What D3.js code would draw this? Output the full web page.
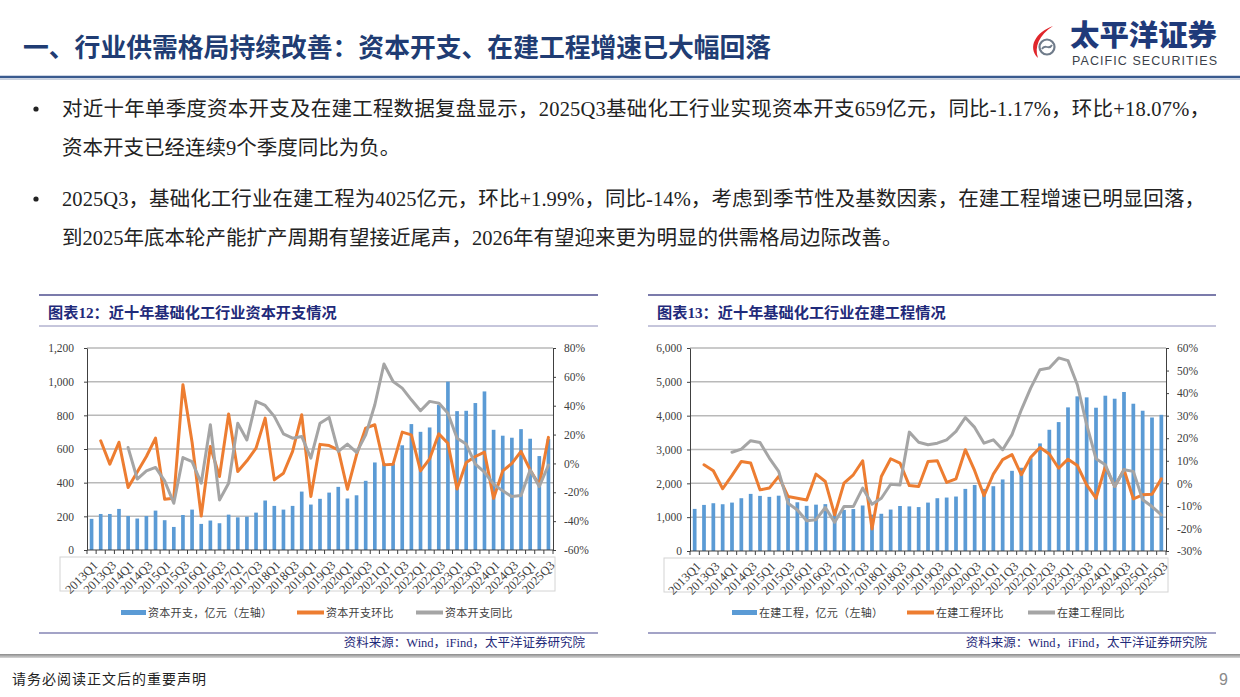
<!DOCTYPE html>
<html>
<head>
<meta charset="utf-8">
<script src="https://cdn.jsdelivr.net/npm/d3@7"></script>
<style>
  body { margin: 0; background: #fff; }
  svg { display: block; }
</style>
</head>
<body>
<svg id="page" width="1240" height="697"></svg>
<script>
// categories (quarters)
const quarters = [
  "2013Q1","2013Q2","2013Q3","2013Q4","2014Q1","2014Q2","2014Q3","2014Q4",
  "2015Q1","2015Q2","2015Q3","2015Q4","2016Q1","2016Q2","2016Q3","2016Q4",
  "2017Q1","2017Q2","2017Q3","2017Q4","2018Q1","2018Q2","2018Q3","2018Q4",
  "2019Q1","2019Q2","2019Q3","2019Q4","2020Q1","2020Q2","2020Q3","2020Q4",
  "2021Q1","2021Q2","2021Q3","2021Q4","2022Q1","2022Q2","2022Q3","2022Q4",
  "2023Q1","2023Q2","2023Q3","2023Q4","2024Q1","2024Q2","2024Q3","2024Q4",
  "2025Q1","2025Q2","2025Q3"
];

// chart 12: capex (亿元) and growth (%)
const capex = [185,214,214,244,202,187,202,234,177,137,208,240,155,175,159,210,
  194,198,222,294,262,240,262,347,270,304,341,375,306,325,411,520,
  516,513,622,748,702,728,863,1000,825,827,873,942,714,679,667,718,
  661,558,659];
const capexQoQ = [null,15.7,-0.5,14.7,-16.7,-6,4.8,17.5,-24.8,-24.1,54.6,14.7,-36.4,11.7,-9.1,34.2,
  -5.6,1.8,10.6,31.4,-11.4,-6.8,8.3,33.7,-23,13.2,12.4,9.4,-17.9,6,24.5,26.8,
  -1,-0.5,21.7,19.8,-5.2,3.2,20.5,14,-17.7,0.6,4.8,7.8,-24.2,-5.2,0,8.3,
  -4.5,-14.9,18.07];
const capexYoY = [null,null,null,null,11,-10.8,-5.2,-2.8,-12.1,-27.6,4.1,1.3,-13.7,26.8,-25.3,-13.7,
  27.9,16.3,43,40.2,32.6,20.5,17.5,18.7,3.6,27.9,31.9,8.3,13.4,7.6,19.8,40.7,
  68.9,56.8,52.2,44.1,36.5,43,41.8,34.8,17.5,13.4,-0.5,-6.1,-14.4,-19,-23,-22.3,
  -4.5,-16,-1.17];

// chart 13: construction in progress (亿元) and growth (%)
const cip = [1244,1362,1412,1382,1431,1560,1688,1629,1600,1635,1560,1440,1335,1370,1385,1200,
  1214,1240,1345,1075,1100,1225,1330,1318,1298,1431,1560,1580,1610,1836,1950,1835,
  1915,2115,2370,2460,2744,3180,3583,3810,4245,4571,4541,4235,4590,4501,4700,4353,
  4146,3946,4025];
const cipQoQ = [null,8.2,5.6,-2.4,3.5,9.7,9,-2.9,-2.1,3.1,-5.8,-6.6,-7.4,4.1,0.8,-14,
  0.1,3.8,10,-20.2,3,10.9,9,-1,-1.4,9.7,10,0.4,2,14.9,5.6,-5.5,
  4.1,10.5,12.7,3.8,11.5,15.9,13,6.7,10.7,7.9,-0.7,-6.6,7.5,-1.4,6,-6.9,
  -5.1,-4.8,1.99];
const cipYoY = [null,null,null,null,13.8,15.2,18.9,18.1,11.2,5.3,-8.8,-11.8,-16.6,-16.1,-10.7,-17.3,
  -10.3,-10.3,-2.1,-9.3,-6.6,-0.4,-0.7,22.7,18.2,17.1,17.8,19.3,23,29.2,24.8,17.8,
  19.3,14.9,21.6,32.6,42.2,50.4,51.1,55.6,54.4,43.7,26,10.9,8.2,-1.4,6,5.3,
  -7.3,-10.3,-14];

// tick values
const capexTicks = [0,200,400,600,800,1000,1200];
const capexPctTicks = [-60,-40,-20,0,20,40,60,80];
const cipTicks = [0,1000,2000,3000,4000,5000,6000];
const cipPctTicks = [-30,-20,-10,0,10,20,30,40,50,60];

const SERIF = "'Liberation Serif','Noto Sans CJK SC',serif";
const CJK = "'Noto Sans CJK SC',sans-serif";
const NAVY = "#1f2a7a";

var svg = d3.select("#page");

// ---------- header ----------
svg.append("text")
  .attr("x", 23).attr("y", 57)
  .attr("font-family", CJK).attr("font-weight", 700)
  .attr("font-size", 25.8).attr("fill", "#203c73")
  .text("一、行业供需格局持续改善：资本开支、在建工程增速已大幅回落");

svg.append("line").attr("x1", 0).attr("x2", 1240).attr("y1", 77).attr("y2", 77)
  .attr("stroke", "#3a5a8e").attr("stroke-width", 2.5);
svg.append("line").attr("x1", 0).attr("x2", 1240).attr("y1", 79.5).attr("y2", 79.5)
  .attr("stroke", "#c9d0dc").attr("stroke-width", 1);

// logo
svg.append("path")
  .attr("d", "M1053,26 C1036,32 1027,47 1038,58 C1034,47 1039,35 1053,26 Z")
  .attr("fill", "#e0262b");
svg.append("circle").attr("cx", 1047).attr("cy", 47).attr("r", 7.5)
  .attr("fill", "none").attr("stroke", "#6f7b8a").attr("stroke-width", 2.2);
svg.append("path").attr("d", "M1042,49 C1045,43 1049,51 1052,45")
  .attr("fill", "none").attr("stroke", "#6f7b8a").attr("stroke-width", 1.8);
svg.append("text").attr("x", 1070).attr("y", 46)
  .attr("font-family", CJK).attr("font-weight", 900).attr("font-size", 29)
  .attr("fill", "#1f3a7a").attr("textLength", 147).attr("lengthAdjust", "spacingAndGlyphs")
  .text("太平洋证券");
svg.append("text").attr("x", 1072).attr("y", 65)
  .attr("font-family", "'Liberation Sans',sans-serif").attr("font-size", 12.5)
  .attr("fill", "#3b3f4a").attr("textLength", 145).attr("lengthAdjust", "spacing")
  .text("PACIFIC SECURITIES");

// ---------- bullets ----------
var bullets = [
  { y: 116, t: "对近十年单季度资本开支及在建工程数据复盘显示，2025Q3基础化工行业实现资本开支659亿元，同比-1.17%，环比+18.07%，", len: 1148, dot: true },
  { y: 154.5, t: "资本开支已经连续9个季度同比为负。" },
  { y: 206, t: "2025Q3，基础化工行业在建工程为4025亿元，环比+1.99%，同比-14%，考虑到季节性及基数因素，在建工程增速已明显回落，", len: 1143, dot: true },
  { y: 244.5, t: "到2025年底本轮产能扩产周期有望接近尾声，2026年有望迎来更为明显的供需格局边际改善。" }
];
bullets.forEach(function (b) {
  if (b.dot) {
    svg.append("circle").attr("cx", 36).attr("cy", b.y - 7).attr("r", 2.6).attr("fill", "#222");
  }
  var t = svg.append("text").attr("x", 62).attr("y", b.y)
    .attr("font-family", SERIF).attr("font-size", 20.5).attr("fill", "#222")
    .text(b.t);
  if (b.len) t.attr("textLength", b.len).attr("lengthAdjust", "spacing");
});

// ---------- chart function ----------
function drawChart(cfg) {
  var g = svg.append("g");

  // title block
  g.append("line").attr("x1", cfg.boxL).attr("x2", cfg.boxR).attr("y1", 295).attr("y2", 295)
    .attr("stroke", "#7b7bab").attr("stroke-width", 2);
  g.append("text").attr("x", cfg.boxL + 9).attr("y", 318)
    .attr("font-family", SERIF).attr("font-weight", 700).attr("font-size", 15.2)
    .attr("fill", NAVY).text(cfg.title);
  g.append("line").attr("x1", cfg.boxL).attr("x2", cfg.boxR).attr("y1", 326).attr("y2", 326)
    .attr("stroke", "#8c8cb8").attr("stroke-width", 1);

  var x = d3.scaleBand().domain(quarters).range([cfg.left, cfg.right]);
  var bw = x.bandwidth();
  var yL = d3.scaleLinear().domain([0, cfg.leftTicks[cfg.leftTicks.length - 1]]).range([cfg.bottom, cfg.top]);
  var yR = d3.scaleLinear().domain([cfg.rightTicks[0], cfg.rightTicks[cfg.rightTicks.length - 1]]).range([cfg.bottom, cfg.top]);

  // gridlines
  g.selectAll(".grid").data(cfg.leftTicks.filter(function (d) { return d > 0; }))
    .enter().append("line")
    .attr("x1", cfg.left).attr("x2", cfg.right)
    .attr("y1", function (d) { return yL(d); }).attr("y2", function (d) { return yL(d); })
    .attr("stroke", "#b9b9b9").attr("stroke-width", 1.5);

  // bars
  g.selectAll(".bar").data(cfg.bars).enter().append("rect")
    .attr("x", function (d, i) { return x(quarters[i]) + bw / 2 - bw * 0.2; })
    .attr("width", bw * 0.4)
    .attr("y", function (d) { return yL(d); })
    .attr("height", function (d) { return yL(0) - yL(d); })
    .attr("fill", "#5b9bd5");

  // lines
  var line = d3.line()
    .defined(function (d) { return d != null; })
    .x(function (d, i) { return x(quarters[i]) + bw / 2; })
    .y(function (d) { return yR(d); });
  g.append("path").datum(cfg.qoq).attr("d", line)
    .attr("fill", "none").attr("stroke", "#ed7d31").attr("stroke-width", 3)
    .attr("stroke-linejoin", "round").attr("stroke-linecap", "round");
  g.append("path").datum(cfg.yoy).attr("d", line)
    .attr("fill", "none").attr("stroke", "#a5a5a5").attr("stroke-width", 3)
    .attr("stroke-linejoin", "round").attr("stroke-linecap", "round");

  // left axis
  var axL = g.append("g").attr("transform", "translate(" + cfg.left + ",0)")
    .call(d3.axisLeft(yL).tickValues(cfg.leftTicks).tickFormat(d3.format(","))
      .tickSizeInner(3).tickSizeOuter(0).tickPadding(cfg.leftPad));
  // right axis
  var axR = g.append("g").attr("transform", "translate(" + cfg.right + ",0)")
    .call(d3.axisRight(yR).tickValues(cfg.rightTicks).tickFormat(function (d) { return d + "%"; })
      .tickSizeInner(3).tickSizeOuter(0).tickPadding(8));
  [axL, axR].forEach(function (a) {
    a.select(".domain").attr("stroke", "#404040");
    a.selectAll(".tick line").attr("stroke", "#404040");
    a.selectAll("text").attr("font-family", SERIF).attr("font-size", 11.5).attr("fill", "#404040");
  });

  // x axis
  g.append("line").attr("x1", cfg.left).attr("x2", cfg.right)
    .attr("y1", cfg.bottom).attr("y2", cfg.bottom).attr("stroke", "#404040").attr("stroke-width", 1.2);
  g.selectAll(".xt").data(quarters.concat(["end"])).enter().append("line")
    .attr("x1", function (d) { return d === "end" ? cfg.right : x(d); })
    .attr("x2", function (d) { return d === "end" ? cfg.right : x(d); })
    .attr("y1", cfg.bottom).attr("y2", cfg.bottom + 4)
    .attr("stroke", "#404040");

  // label box
  g.append("rect").attr("x", cfg.labL).attr("y", cfg.bottom + 7)
    .attr("width", cfg.labR - cfg.labL).attr("height", 34)
    .attr("fill", "none").attr("stroke", "#d4d4d4");
  g.selectAll(".xl").data(quarters.filter(function (d, i) { return i % 2 === 0; }))
    .enter().append("text")
    .attr("transform", function (d) {
      return "translate(" + (x(d) + bw / 2 + 4) + "," + (cfg.bottom + 13) + ") rotate(-45)";
    })
    .attr("text-anchor", "end").attr("dy", "0.35em")
    .attr("font-family", SERIF).attr("font-size", 12.5).attr("fill", "#404040")
    .text(function (d) { return d; });

  // legend
  var ly = 612.5;
  var lg = cfg.legend;
  g.append("rect").attr("x", lg[0]).attr("y", ly - 2.5).attr("width", 25).attr("height", 5).attr("fill", "#5b9bd5");
  g.append("line").attr("x1", lg[1]).attr("x2", lg[1] + 27).attr("y1", ly).attr("y2", ly)
    .attr("stroke", "#ed7d31").attr("stroke-width", 4);
  g.append("line").attr("x1", lg[2]).attr("x2", lg[2] + 27).attr("y1", ly).attr("y2", ly)
    .attr("stroke", "#a5a5a5").attr("stroke-width", 4);
  cfg.legendText.forEach(function (t, i) {
    g.append("text").attr("x", lg[i] + (i === 0 ? 27 : 29)).attr("y", ly + 4)
      .attr("font-family", CJK).attr("font-size", 11).attr("fill", "#404040")
      .attr("letter-spacing", 0.3)
      .text(t);
  });

  // source
  g.append("line").attr("x1", cfg.boxL).attr("x2", cfg.boxR).attr("y1", 633).attr("y2", 633)
    .attr("stroke", "#8484b4").attr("stroke-width", 1.6);
  g.append("text").attr("x", cfg.srcR).attr("y", 646.5).attr("text-anchor", "end")
    .attr("font-family", SERIF).attr("font-size", 12.5).attr("fill", NAVY)
    .text("资料来源：Wind，iFind，太平洋证券研究院");
}

drawChart({
  title: "图表12：近十年基础化工行业资本开支情况",
  boxL: 39, boxR: 598,
  left: 87, right: 553, top: 348, bottom: 550,
  leftPad: 10,
  leftTicks: capexTicks, rightTicks: capexPctTicks,
  bars: capex, qoq: capexQoQ, yoy: capexYoY,
  labL: 60, labR: 555,
  legend: [121, 297, 416],
  legendText: ["资本开支，亿元（左轴）", "资本开支环比", "资本开支同比"],
  srcR: 585
});

drawChart({
  title: "图表13：近十年基础化工行业在建工程情况",
  boxL: 648, boxR: 1216,
  left: 690, right: 1166, top: 348, bottom: 551,
  leftPad: 5,
  leftTicks: cipTicks, rightTicks: cipPctTicks,
  bars: cip, qoq: cipQoQ, yoy: cipYoY,
  labL: 664, labR: 1168,
  legend: [732, 907, 1028],
  legendText: ["在建工程，亿元（左轴）", "在建工程环比", "在建工程同比"],
  srcR: 1207
});

// ---------- footer ----------
var grad = svg.append("defs").append("linearGradient").attr("id", "foot")
  .attr("x1", 0).attr("x2", 0).attr("y1", 0).attr("y2", 1);
grad.append("stop").attr("offset", "0%").attr("stop-color", "#8a8a8a");
grad.append("stop").attr("offset", "100%").attr("stop-color", "#d8d8d8");
svg.append("rect").attr("x", 0).attr("y", 654).attr("width", 1240).attr("height", 4).attr("fill", "url(#foot)");
svg.append("text").attr("x", 12).attr("y", 684)
  .attr("font-family", CJK).attr("font-size", 14).attr("letter-spacing", 1)
  .attr("fill", "#222").text("请务必阅读正文后的重要声明");
svg.append("text").attr("x", 1228).attr("y", 685).attr("text-anchor", "end")
  .attr("font-family", "'Liberation Sans',sans-serif").attr("font-size", 16)
  .attr("fill", "#8a8a8a").text("9");
</script>
</body>
</html>
